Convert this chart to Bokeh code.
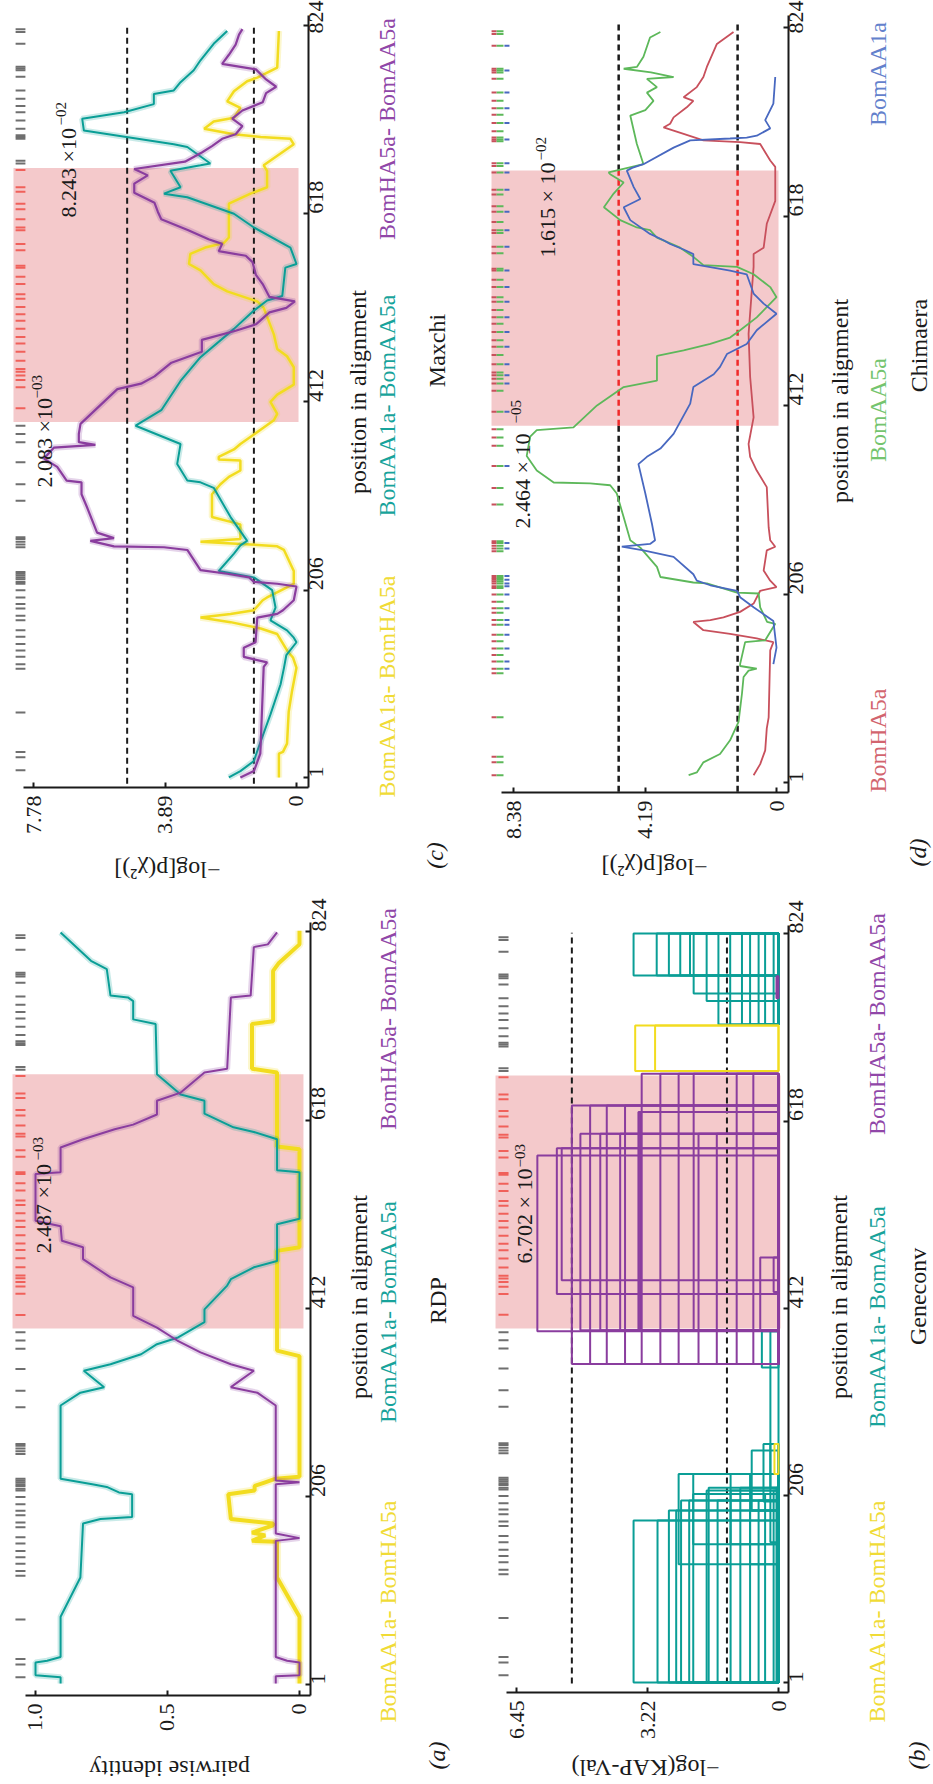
import math
from bokeh.plotting import figure
from bokeh.models import Range1d, FixedTicker, Label
from bokeh.layouts import gridplot
from bokeh.embed import file_html
from bokeh.resources import INLINE

FONT = "Liberation Serif"
INK = "#1a1a1a"
PINK = "#f4c9cb"
YEL, TEAL, PURP = "#f2dc1f", "#0a9e96", "#8a3d9e"
YEL_T, TEAL_T, PURP_T = "#f0db36", "#17a39b", "#9047a8"
RED, GREEN, BLUE = "#c8505c", "#5db85a", "#4868c0"
RED_T, GREEN_T, BLUE_T = "#d2646e", "#74c46e", "#6381cc"

S_YEL = "BomAA1a- BomHA5a"
S_TEAL = "BomAA1a- BomAA5a"
S_PURP = "BomHA5a- BomAA5a"

POS_TICKS = [1, 206, 412, 618, 824]
HIGHLIGHT = (390, 668)

RUG_SITES = [9, 23, 29, 72, 120, 125, 133, 140, 147, 155, 162, 173, 178, 186, 191, 198,
             206, 213, 215, 218, 220, 222, 224, 226, 253, 256, 259, 262, 264, 304, 322,
             346, 368, 377, 386, 405, 428, 436, 441, 445, 448, 457, 467, 476, 483, 492,
             501, 508, 516, 525, 530, 541, 549, 559, 561, 578, 585, 600, 603, 612, 623,
             629, 642, 647, 666, 673, 676, 700, 702, 704, 711, 720, 729, 736, 744, 753,
             768, 775, 777, 779, 804, 817, 820]
CHIM_BLUE_SITES = [125, 133, 147, 162, 173, 178, 191, 206, 215, 218, 222, 226, 256, 262,
                   346, 405, 436, 445, 457, 476, 492, 508, 525, 541, 559, 585, 603, 623,
                   647, 666, 676, 702, 720, 736, 753, 777, 804]

# ---------------- (a) RDP : pairwise identity ----------------
RDP_TICKS = [0, 0.5, 1.0]
RDP_TICK_LABELS = ["0", "0.5", "1.0"]
RDP_TEAL_POS = [2, 9, 11, 25, 27, 31, 75, 118, 177, 182, 184, 209, 211, 217, 220, 226, 306, 320,
                326, 344, 351, 362, 373, 380, 397, 411, 437, 444, 457, 464, 504, 510, 561, 563,
                597, 605, 610, 625, 639, 646, 668, 723, 728, 748, 752, 754, 783, 792, 823]
RDP_TEAL_VAL = [0.905, 0.905, 1.0, 1.0, 0.956, 0.905, 0.905, 0.83, 0.82, 0.754, 0.634, 0.634,
                0.684, 0.73, 0.785, 0.905, 0.905, 0.83, 0.74, 0.817, 0.716, 0.6, 0.54, 0.463,
                0.36, 0.36, 0.274, 0.26, 0.173, 0.085, 0.085, 0.0, 0.0, 0.085, 0.085, 0.173,
                0.25, 0.36, 0.36, 0.45, 0.54, 0.545, 0.63, 0.63, 0.65, 0.716, 0.73, 0.79, 0.905]
RDP_PURP_POS = [2, 10, 11, 25, 27, 31, 158, 161, 166, 220, 222, 224, 306, 320, 326, 344, 351,
                364, 377, 391, 404, 435, 446, 466, 479, 486, 502, 508, 559, 561, 588, 597,
                608, 613, 624, 639, 648, 670, 674, 752, 754, 807, 810, 823]
RDP_PURP_VAL = [0.09, 0.09, 0.0, 0.0, 0.047, 0.09, 0.09, 0.0, 0.09, 0.09, 0.0, 0.09, 0.09, 0.16,
                0.26, 0.173, 0.26, 0.375, 0.463, 0.54, 0.63, 0.63, 0.716, 0.82, 0.82, 0.9,
                0.905, 1.0, 1.0, 0.905, 0.905, 0.82, 0.7, 0.63, 0.54, 0.54, 0.45, 0.36, 0.274,
                0.26, 0.185, 0.173, 0.12, 0.085]
RDP_YEL_POS = [2, 75, 118, 157, 158, 164, 167, 175, 177, 182, 209, 213, 218, 222, 226, 228,
               360, 366, 475, 479, 586, 589, 670, 674, 723, 726, 781, 789, 810, 825]
RDP_YEL_VAL = [0.0, 0.0, 0.085, 0.085, 0.18, 0.13, 0.18, 0.1, 0.1, 0.26, 0.27, 0.17, 0.17, 0.13,
               0.09, 0.0, 0.0, 0.085, 0.085, 0.0, 0.0, 0.085, 0.085, 0.18, 0.18, 0.1, 0.1,
               0.08, 0.0, 0.0]

# ---------------- (c) Maxchi : -log p ----------------
MAX_TICKS = [0, 3.89, 7.78]
MAX_TICK_LABELS = ["0", "3.89", "7.78"]
MAX_THRESH = [5.01, 1.26]
MAX_PURP_POS = [1, 8, 27, 122, 127, 133, 143, 149, 176, 180, 184, 195, 210, 213, 215, 220, 224,
                228, 250, 253, 254, 260, 263, 269, 297, 311, 324, 326, 341, 350, 362, 365, 368,
                377, 388, 426, 432, 440, 455, 467, 480, 490, 497, 510, 515, 522, 527, 541, 551,
                565, 572, 577, 585, 590, 600, 612, 620, 630, 641, 651, 660, 667, 675, 685, 692,
                700, 705, 714, 722, 731, 740, 750, 757, 765, 776, 782, 792, 803, 814, 820]
MAX_PURP_VAL = [1.66, 1.26, 1.07, 0.97, 0.87, 1.56, 1.56, 1.21, 1.16, 0.57, 0.4, 0.08, 0.0, 0.57,
                1.26, 1.4, 2.05, 2.84, 3.23, 3.92, 5.4, 6.1, 5.4, 5.9, 6.2, 6.36, 6.36, 6.8, 7.08,
                7.47, 7.18, 5.95, 6.44, 6.44, 6.39, 5.3, 4.6, 4.2, 3.7, 2.8, 2.8, 1.8, 1.2, 0.8,
                0.3, 0.05, 0.8, 1.0, 1.2, 1.3, 1.5, 2.3, 2.2, 2.6, 3.2, 4.0, 4.1, 4.2, 4.8, 4.8,
                4.4, 4.8, 3.3, 2.8, 2.5, 2.2, 1.8, 1.6, 1.9, 1.6, 1.0, 0.9, 0.6, 0.9, 1.2, 2.2,
                2.0, 1.8, 1.7, 1.6]
MAX_TEAL_POS = [1, 8, 19, 30, 70, 103, 121, 135, 149, 154, 162, 173, 187, 206, 220, 227, 246,
                255, 260, 286, 318, 324, 326, 344, 366, 386, 403, 435, 461, 492, 512, 523, 528,
                559, 563, 581, 603, 618, 636, 640, 647, 665, 671, 673, 691, 694, 709, 722, 729,
                738, 749, 753, 762, 775, 786, 804, 818]
MAX_TEAL_VAL = [2.0, 1.66, 1.26, 1.16, 0.77, 0.47, 0.37, 0.3, 0.0, 0.08, 0.28, 0.77, 0.62, 0.72,
                1.26, 2.3, 1.85, 1.66, 1.46, 1.95, 2.45, 2.84, 3.23, 3.53, 3.43, 4.76, 4.0, 3.43,
                2.84, 1.85, 1.26, 0.87, 0.42, 0.33, 0.0, 0.18, 1.26, 1.85, 3.23, 3.92, 3.43,
                3.73, 2.84, 2.55, 3.23, 3.63, 6.29, 6.34, 5.1, 4.22, 4.22, 3.63, 3.43, 3.04,
                2.84, 2.45, 2.05]
MAX_YEL_POS = [1, 27, 29, 38, 73, 96, 121, 132, 140, 158, 164, 171, 176, 180, 184, 195, 198, 213,
               227, 250, 254, 256, 259, 262, 278, 286, 311, 322, 330, 337, 348, 349, 352, 360,
               366, 384, 392, 399, 412, 420, 431, 450, 462, 470, 486, 515, 522, 533, 541, 556,
               563, 574, 581, 586, 592, 618, 629, 640, 647, 665, 671, 694, 700, 702, 705, 711,
               719, 723, 734, 741, 752, 763, 767, 778, 818]
MAX_YEL_VAL = [0.52, 0.52, 0.4, 0.28, 0.23, 0.13, 0.0, 0.1, 0.28, 0.57, 1.06, 1.95, 2.84, 1.95,
               1.26, 1.0, 0.87, 0.08, 0.08, 0.37, 0.57, 1.36, 2.84, 1.66, 1.66, 2.5, 2.5, 2.25,
               2.0, 1.66, 1.66, 2.3, 2.3, 1.85, 1.66, 0.97, 0.67, 0.57, 0.77, 0.57, 0.08, 0.08,
               0.28, 0.57, 0.67, 0.97, 1.16, 2.05, 2.45, 2.84, 3.18, 3.14, 2.7, 2.15, 2.0, 2.0,
               2.0, 1.36, 0.87, 0.87, 0.97, 0.08, 0.18, 1.06, 1.85, 2.73, 2.45, 1.85, 1.66,
               2.05, 1.85, 1.46, 1.16, 0.57, 0.52]

# ---------------- (d) Chimaera : -log p ----------------
CHI_TICKS = [0, 4.19, 8.38]
CHI_TICK_LABELS = ["0", "4.19", "8.38"]
CHI_THRESH = [5.03, 1.24]
CHI_GREEN_POS = [9, 12, 23, 32, 47, 67, 98, 116, 123, 125, 128, 130, 154, 156, 174, 176, 192,
                 207, 208, 218, 219, 225, 236, 257, 265, 290, 316, 325, 327, 328, 341, 357, 378,
                 385, 388, 412, 432, 439, 466, 472, 479, 486, 494, 508, 530, 541, 555, 563, 565,
                 574, 584, 595, 603, 606, 614, 628, 643, 655, 664, 666, 669, 675, 697, 728, 734,
                 744, 753, 759, 768, 770, 775, 779, 781, 792, 813, 819]
CHI_GREEN_VAL = [2.8, 2.54, 2.33, 1.8, 1.48, 1.21, 1.1, 1.05, 0.89, 0.63, 1.16, 1.16, 1.0, 0.36,
                 0.04, 0.3, 0.52, 0.57, 1.26, 2.22, 2.65, 3.7, 3.81, 4.34, 4.66, 4.87, 5.09, 5.3,
                 5.94, 7.1, 7.64, 7.96, 7.85, 7.64, 6.47, 5.72, 4.87, 3.81, 3.81, 2.96, 2.11,
                 1.48, 1.16, 0.63, 0.0, 0.2, 0.73, 1.26, 2.33, 2.65, 3.07, 3.81, 4.03, 4.45,
                 4.98, 5.5, 5.19, 4.87, 5.3, 5.35, 4.98, 4.24, 4.45, 4.66, 4.18, 3.92, 4.13,
                 3.81, 4.13, 3.28, 4.0, 4.87, 4.45, 4.24, 4.03, 3.7]
CHI_BLUE_POS = [130, 148, 177, 192, 203, 210, 216, 221, 228, 247, 254, 258, 261, 265, 283, 316,
                348, 356, 365, 381, 414, 432, 446, 454, 468, 479, 494, 512, 523, 534, 555, 559,
                566, 577, 582, 588, 592, 599, 614, 628, 637, 650, 668, 671, 675, 693, 701, 703,
                704, 706, 714, 723, 741, 770]
CHI_BLUE_VAL = [0.1, 0.0, 0.1, 0.73, 1.16, 1.26, 2.11, 2.54, 2.65, 3.28, 4.24, 4.93, 4.03, 3.87,
                3.97, 4.18, 4.4, 4.13, 3.7, 3.28, 2.75, 2.65, 2.0, 1.8, 1.58, 0.95, 0.63, 0.0,
                0.41, 0.73, 0.95, 1.48, 2.65, 2.65, 2.96, 3.39, 3.6, 4.03, 4.66, 4.87, 4.34,
                4.55, 4.77, 4.6, 4.24, 3.28, 2.75, 1.48, 0.95, 0.63, 0.2, 0.36, 0.1, 0.04]
CHI_RED_POS = [9, 21, 36, 60, 72, 145, 154, 158, 163, 167, 176, 178, 181, 187, 196, 210, 214, 221,
               232, 254, 258, 265, 279, 323, 341, 356, 370, 399, 443, 490, 563, 577, 584, 610,
               635, 672, 679, 697, 699, 701, 708, 715, 719, 726, 737, 744, 748, 759, 770, 781,
               806, 819]
CHI_RED_VAL = [0.73, 0.52, 0.36, 0.31, 0.25, 0.2, 0.1, 0.63, 1.48, 2.33, 2.65, 2.11, 1.69, 1.16,
               0.73, 0.52, 0.0, 0.2, 0.41, 0.31, 0.04, 0.2, 0.25, 0.31, 0.63, 0.84, 0.89, 0.73,
               0.84, 0.89, 0.73, 0.73, 0.41, 0.31, 0.04, 0.04, 0.2, 0.52, 1.16, 2.33, 2.96, 3.6,
               3.39, 3.28, 2.86, 2.65, 2.96, 2.54, 2.33, 2.22, 1.9, 1.37]

# ---------------- (b) Geneconv : fragments ----------------
GEN_TICKS = [0, 3.22, 6.45]
GEN_TICK_LABELS = ["0", "3.22", "6.45"]
GEN_THRESH = [5.09, 1.27]
GEN_TEAL_START = [1, 1, 1, 1, 1, 1, 1, 1, 1, 1, 1, 1, 1, 1, 1, 1, 1,
                  131, 153, 153, 131, 190, 200, 155, 215, 347,
                  778, 778, 778, 778, 778, 758, 750, 724, 724, 724, 724, 724, 724, 724]
GEN_TEAL_END = [179, 179, 190, 190, 201, 201, 208, 212, 215, 201, 212, 215, 190, 201, 208, 212, 215,
                230, 230, 230, 230, 256, 263, 263, 387, 387,
                824, 824, 824, 824, 824, 824, 824, 824, 824, 824, 824, 824, 824, 824]
GEN_TEAL_VAL = [3.57, 2.98, 2.7, 2.52, 2.4, 2.2, 2.1, 1.77, 1.72, 1.5, 1.18, 0.94, 0.7, 0.49, 0.33,
                0.12, 0.05,
                2.46, 2.1, 1.18, 0.7, 0.66, 0.37, 0.2, 0.2, 0.41,
                3.57, 3.0, 2.7, 2.42, 2.18, 2.09, 1.77, 1.48, 1.19, 0.9, 0.7, 0.49, 0.33, 0.12]
GEN_PURP_START = [351, 351, 351, 351, 387, 428, 443, 388, 388, 388, 388, 388, 351, 351, 351, 388,
                  351, 351, 351, 351, 388, 430, 753]
GEN_PURP_END = [635, 635, 635, 635, 580, 588, 588, 604, 604, 604, 628, 628, 670, 670, 670, 670,
                604, 604, 670, 670, 468, 468, 777]
GEN_PURP_VAL = [5.09, 4.64, 4.23, 3.78, 5.94, 5.46, 5.34, 4.88, 4.39, 3.9, 3.45, 3.41, 3.37, 2.91,
                2.46, 2.09, 1.97, 1.52, 1.03, 0.62, 0.45, 0.12, 0.05]
GEN_YEL_START = [673, 673, 230]
GEN_YEL_END = [723, 723, 263]
GEN_YEL_VAL = [3.53, 3.04, 0.1]


def make_panel(w, h, xr, yr, vticks, vlabels, vbounds, pbounds, v_axis_at, p_axis_at):
    p = figure(width=w, height=h, x_range=Range1d(*xr), y_range=Range1d(*yr),
               x_axis_location="below", y_axis_location="right",
               output_backend="svg", toolbar_location=None, title=None,
               min_border_left=0, min_border_right=0, min_border_top=0, min_border_bottom=0)
    p.grid.visible = False
    p.outline_line_color = None
    p.background_fill_color = "white"
    p.border_fill_color = "white"
    xa, ya = p.xaxis[0], p.yaxis[0]
    xa.ticker = FixedTicker(ticks=vticks)
    xa.major_label_overrides = {t: l for t, l in zip(vticks, vlabels)}
    xa.bounds = vbounds
    xa.fixed_location = v_axis_at
    ya.ticker = FixedTicker(ticks=POS_TICKS)
    ya.bounds = pbounds
    ya.fixed_location = p_axis_at
    for ax in (xa, ya):
        ax.axis_line_width = 2
        ax.axis_line_color = INK
        ax.major_tick_line_width = 2
        ax.major_tick_line_color = INK
        ax.major_tick_in = 5
        ax.major_tick_out = 0
        ax.minor_tick_line_color = None
        ax.major_label_text_font = FONT
        ax.major_label_text_font_size = "22px"
        ax.major_label_text_color = INK
        ax.major_label_orientation = math.pi / 2
        ax.major_label_standoff = 8
    return p


def txt(p, x, y, s, size="24px", color=INK, angle=math.pi / 2, align="center", style="normal"):
    p.add_layout(Label(x=x, y=y, text=s, angle=angle, text_align=align, text_baseline="middle",
                       text_font=FONT, text_font_size=size, text_color=color,
                       text_font_style=style))


def trace(p, pos, val, color, width, halo=0.22):
    p.line(x=val, y=pos, line_color=color, line_width=width + 4, line_alpha=halo)
    p.line(x=val, y=pos, line_color=color, line_width=width)


def highlight(p, xl, xr):
    p.patch(x=[xl, xr, xr, xl], y=[HIGHLIGHT[0], HIGHLIGHT[0], HIGHLIGHT[1], HIGHLIGHT[1]],
            fill_color=PINK, line_color=None)


def rug(p, x0, x1):
    inside = [s for s in RUG_SITES if HIGHLIGHT[0] <= s <= HIGHLIGHT[1]]
    outside = [s for s in RUG_SITES if not (HIGHLIGHT[0] <= s <= HIGHLIGHT[1])]
    p.segment(x0=[x0] * len(outside), x1=[x1] * len(outside), y0=outside, y1=outside,
              line_color="#6f6f6f", line_width=2)
    p.segment(x0=[x0] * len(inside), x1=[x1] * len(inside), y0=inside, y1=inside,
              line_color="#f0605a", line_width=2)


def rects(p, starts, ends, vals, color, width=2):
    xs = [[0, v, v, 0] for v in vals]
    ys = [[s, s, e, e] for s, e in zip(starts, ends)]
    p.patches(xs=xs, ys=ys, fill_color=None, line_color=color, line_width=width)


def annot(p, x, y, main, xe, ye, expo):
    txt(p, x, y, main, size="22px", align="left")
    txt(p, xe, ye, expo, size="15px", align="left")


# ======== (c) Maxchi, top-left ========
pc = make_panel(466, 892, (8.757, -5.030), (-124.9, 851.4),
                MAX_TICKS, MAX_TICK_LABELS, (-0.355, 8.08), (-9.94, 835.0), -9.94, -0.355)
highlight(pc, 8.373, -0.06)
rug(pc, 8.31, 8.02)
for t in MAX_THRESH:
    pc.line(x=[t, t], y=[-6, 826], line_color=INK, line_width=2, line_dash="6 4")
trace(pc, MAX_YEL_POS, MAX_YEL_VAL, YEL, 2.5)
trace(pc, MAX_TEAL_POS, MAX_TEAL_VAL, TEAL, 2)
trace(pc, MAX_PURP_POS, MAX_PURP_VAL, PURP, 2.2)
annot(pc, 6.75, 613.9, "8.243 ×10", 6.98, 714.6, "−02")
annot(pc, 7.46, 318.4, "2.083 ×10", 7.69, 415.8, "−03")
txt(pc, -1.834, 422.9, "position in alignment")
txt(pc, -2.69, 100.6, S_YEL, color=YEL_T)
txt(pc, -2.69, 408.0, S_TEAL, color=TEAL_T)
txt(pc, -2.69, 710.7, S_PURP, color=PURP_T)
txt(pc, -4.17, 468.3, "Maxchi")
txt(pc, -4.11, -84.4, "(c)", style="italic")
txt(pc, 3.82, -100.0, "−log[p(χ²)]", angle=math.pi)

# ======== (a) RDP, bottom-left ========
pa = make_panel(466, 891, (1.1326, -0.6326), (-107.2, 866.7),
                RDP_TICKS, RDP_TICK_LABELS, (-0.0417, 1.038), (-11.02, 833.9), -11.02, -0.0417)
highlight(pa, 1.087, -0.015)
rug(pa, 1.076, 1.038)
trace(pa, RDP_YEL_POS, RDP_YEL_VAL, YEL, 4)
trace(pa, RDP_TEAL_POS, RDP_TEAL_VAL, TEAL, 2)
trace(pa, RDP_PURP_POS, RDP_PURP_VAL, PURP, 2)
annot(pa, 0.968, 472.1, "2.487 ×10", 0.989, 573.7, "−03")
txt(pa, -0.2235, 424.5, "position in alignment")
txt(pa, -0.337, 80.8, S_YEL, color=YEL_T)
txt(pa, -0.337, 408.1, S_TEAL, color=TEAL_T)
txt(pa, -0.337, 728.4, S_PURP, color=PURP_T)
txt(pa, -0.523, 420.7, "RDP")
txt(pa, -0.519, -76.6, "(a)", style="italic")
txt(pa, 0.492, -91.0, "pairwise identity", angle=math.pi)

# ======== (d) Chimaera, top-right ========
pd_ = make_panel(466, 892, (9.879, -4.971), (-118.9, 853.4),
                 CHI_TICKS, CHI_TICK_LABELS, (-0.382, 8.76), (-9.9, 837.1), -9.9, -0.382)
highlight(pd_, 9.082, -0.064)
n = len(RUG_SITES)
pd_.segment(x0=[9.08] * n, x1=[8.92] * n, y0=RUG_SITES, y1=RUG_SITES, line_color=RED, line_width=2)
pd_.segment(x0=[8.92] * n, x1=[8.70] * n, y0=RUG_SITES, y1=RUG_SITES, line_color=GREEN, line_width=2)
nb = len(CHIM_BLUE_SITES)
pd_.segment(x0=[8.67] * nb, x1=[8.51] * nb, y0=CHIM_BLUE_SITES, y1=CHIM_BLUE_SITES,
            line_color=BLUE, line_width=2)
for t in CHI_THRESH:
    pd_.line(x=[t, t], y=[-9, HIGHLIGHT[0]], line_color=INK, line_width=2.5, line_dash="6 4")
    pd_.line(x=[t, t], y=[HIGHLIGHT[1], 828], line_color=INK, line_width=2.5, line_dash="6 4")
    pd_.line(x=[t, t], y=[HIGHLIGHT[0], HIGHLIGHT[1]], line_color="#f02a2a", line_width=2.5,
             line_dash="6 4")
pd_.line(x=CHI_RED_VAL, y=CHI_RED_POS, line_color=RED, line_width=1.8)
pd_.line(x=CHI_GREEN_VAL, y=CHI_GREEN_POS, line_color=GREEN, line_width=1.8)
pd_.line(x=CHI_BLUE_VAL, y=CHI_BLUE_POS, line_color=BLUE, line_width=1.8)
annot(pd_, 7.30, 573.3, "1.615 × 10", 7.49, 679.0, "−02")
annot(pd_, 8.094, 277.9, "2.464 × 10", 8.317, 392.3, "−05")
txt(pd_, -2.008, 416.9, "position in alignment")
txt(pd_, -3.22, 46.8, "BomHA5a", color=RED_T)
txt(pd_, -3.22, 407.0, "BomAA5a", color=GREEN_T)
txt(pd_, -3.22, 773.3, "BomAA1a", color=BLUE_T)
txt(pd_, -4.525, 477.3, "Chimaera")
txt(pd_, -4.493, -75.3, "(d)", style="italic")
txt(pd_, 3.888, -91.6, "−log[p(χ²)]", angle=math.pi)

# ======== (b) Geneconv, bottom-right ========
pb = make_panel(466, 891, (7.685, -3.793), (-110.0, 869.1),
                GEN_TICKS, GEN_TICK_LABELS, (-0.246, 6.70), (-9.99, 832.9), -9.99, -0.246)
highlight(pb, 6.970, -0.05)
rug(pb, 6.897, 6.650)
for t in GEN_THRESH:
    pb.line(x=[t, t], y=[0, 825], line_color=INK, line_width=2, line_dash="6 4")
rects(pb, GEN_TEAL_START, GEN_TEAL_END, GEN_TEAL_VAL, TEAL)
rects(pb, GEN_PURP_START, GEN_PURP_END, GEN_PURP_VAL, PURP)
rects(pb, GEN_YEL_START, GEN_YEL_END, GEN_YEL_VAL, YEL)
annot(pb, 6.256, 461.4, "6.702 × 10", 6.379, 566.9, "−03")
txt(pb, -1.502, 424.6, "position in alignment")
txt(pb, -2.438, 79.0, S_YEL, color=YEL_T)
txt(pb, -2.438, 402.6, S_TEAL, color=TEAL_T)
txt(pb, -2.438, 724.6, S_PURP, color=PURP_T)
txt(pb, -3.448, 425.2, "Geneconv")
txt(pb, -3.399, -79.2, "(b)", style="italic")
txt(pb, 3.276, -92.6, "−log(KAP-Val)", angle=math.pi)

grid = gridplot([[pc, pd_], [pa, pb]], toolbar_location=None)
open("out.html", "w").write(file_html(grid, INLINE))
